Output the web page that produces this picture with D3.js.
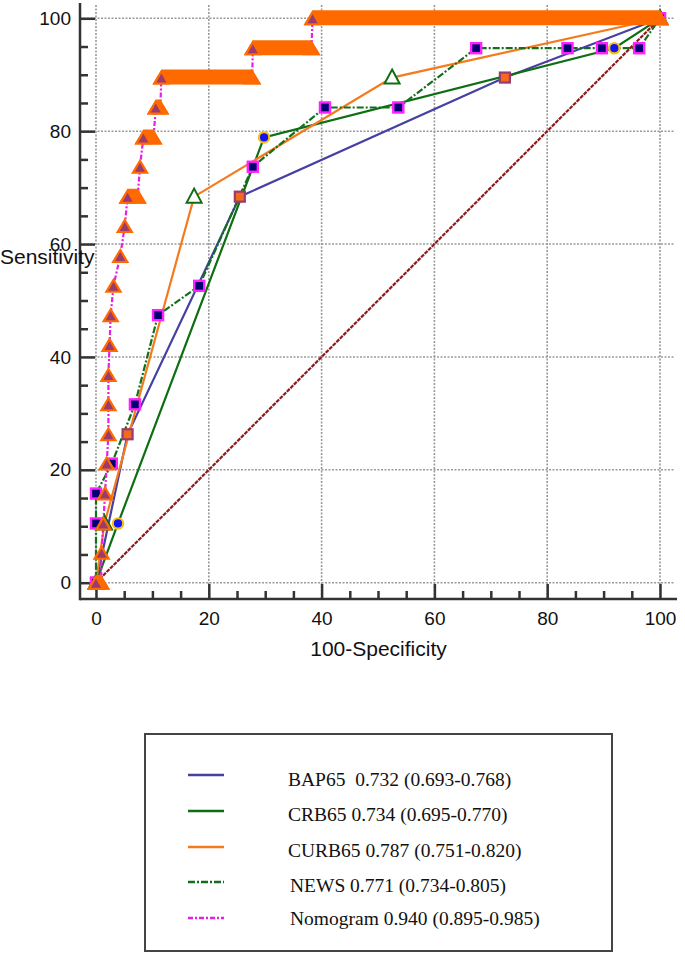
<!DOCTYPE html>
<html lang="en">
<head>
<meta charset="UTF-8">
<title>ROC curves</title>
<script src="https://d3js.org/d3.v7.min.js"></script>
<style>
  body { margin: 0; background: #fff; }
  svg { display: block; }
</style>
</head>
<body>
<div id="chart"></div>
<script>
// ROC points as [100-Specificity, Sensitivity]
const bap65 = [[0, 0], [5.6, 26.3], [25.5, 68.4], [72.5, 89.5], [100, 100]];
const crb65 = [[0, 0], [3.9, 10.5], [29.8, 78.9], [91.9, 94.7], [100, 100]];
const curb65 = [[0, 0], [1.5, 10.5], [17.4, 68.4], [52.5, 89.5], [100, 100]];
const news = [[0, 0], [0, 10.5], [0, 15.8], [2.8, 21.1], [6.9, 31.6], [11, 47.4], [18.3, 52.6],
  [27.8, 73.7], [40.6, 84.2], [53.6, 84.2], [67.4, 94.7], [83.6, 94.7], [89.7, 94.7], [96.3, 94.7], [100, 100]];
const nomogram = [[0, 0], [0.9, 0], [1.0, 5.3], [1.3, 10.5], [1.6, 15.8], [1.9, 21.1], [2.2, 26.3],
  [2.2, 31.6], [2.2, 36.8], [2.4, 42.1], [2.6, 47.4], [3.1, 52.6], [4.3, 57.9], [5.1, 63.2],
  [5.6, 68.4], [7.4, 68.4], [7.8, 73.7], [8.4, 78.9], [10.2, 78.9], [10.6, 84.2], [11.4, 84.2],
  [11.6, 89.5], [27.7, 89.5], [27.8, 94.7], [38.2, 94.7], [38.4, 100], [100, 100]];
const diagonal = [[0, 0], [100, 100]];

const majorTicks = [0, 20, 40, 60, 80, 100];
const minorTicks = [5, 10, 15, 25, 30, 35, 45, 50, 55, 65, 70, 75, 85, 90, 95];

const legendLabels = [
  "BAP65  0.732 (0.693-0.768)",
  "CRB65 0.734 (0.695-0.770)",
  "CURB65 0.787 (0.751-0.820)",
  "NEWS 0.771 (0.734-0.805)",
  "Nomogram 0.940 (0.895-0.985)"
];

const width = 685, height = 954;
const box = { left: 80, right: 677, top: 3, bottom: 599 };

const orange = "#ff6a00";
const purple = "#9b3a6e";
const styles = [
  { color: "#4640a2", dash: null },          // BAP65
  { color: "#0e6e12", dash: null },          // CRB65
  { color: "#f57a1e", dash: null },          // CURB65
  { color: "#12701a", dash: "7,2,2,2" },     // NEWS
  { color: "#e81ee8", dash: "5,2,2,2" }      // Nomogram
];

const svg = d3.select("#chart").append("svg")
  .attr("width", width)
  .attr("height", height);

const x = d3.scaleLinear().domain([0, 100]).range([96, 660]);
const y = d3.scaleLinear().domain([0, 100]).range([582.7, 18.3]);

// grid
const grid = svg.append("g")
  .attr("stroke", "#9a9a9a")
  .attr("stroke-width", 1.6)
  .attr("stroke-dasharray", "2,1.5");
grid.selectAll(".gv").data(majorTicks).join("line")
  .attr("x1", d => x(d)).attr("x2", d => x(d))
  .attr("y1", box.top + 2).attr("y2", box.bottom);
grid.selectAll(".gh").data(majorTicks).join("line")
  .attr("class", "gh")
  .attr("x1", box.left).attr("x2", box.right - 2)
  .attr("y1", d => y(d)).attr("y2", d => y(d));

// axes with inward ticks
const axisFont = "'Liberation Sans', Arial, sans-serif";
const gx = svg.append("g").attr("transform", `translate(0,${box.bottom})`)
  .call(d3.axisBottom(x).tickValues(majorTicks).tickSizeInner(-15).tickSizeOuter(0).tickPadding(13));
const gxm = svg.append("g").attr("transform", `translate(0,${box.bottom})`)
  .call(d3.axisBottom(x).tickValues(minorTicks).tickSizeInner(-8).tickSizeOuter(0).tickFormat(""));
const gy = svg.append("g").attr("transform", `translate(${box.left},0)`)
  .call(d3.axisLeft(y).tickValues(majorTicks).tickSizeInner(-15).tickSizeOuter(0).tickPadding(9));
const gym = svg.append("g").attr("transform", `translate(${box.left},0)`)
  .call(d3.axisLeft(y).tickValues(minorTicks).tickSizeInner(-8).tickSizeOuter(0).tickFormat(""));

[gx, gxm, gy, gym].forEach(g => {
  g.select(".domain").remove();
  g.selectAll("line").attr("stroke", "#333").attr("stroke-width", 2.5);
  g.selectAll("text").attr("font-family", axisFont).attr("font-size", 19).attr("fill", "#111");
});

svg.append("line")
  .attr("x1", box.left).attr("x2", box.left)
  .attr("y1", box.top).attr("y2", box.bottom + 1.25)
  .attr("stroke", "#333").attr("stroke-width", 2.5);
svg.append("line")
  .attr("x1", box.left).attr("x2", box.right)
  .attr("y1", box.bottom).attr("y2", box.bottom)
  .attr("stroke", "#333").attr("stroke-width", 2.5);

svg.append("text")
  .attr("x", (box.left + box.right) / 2).attr("y", 656)
  .attr("text-anchor", "middle")
  .attr("font-family", axisFont).attr("font-size", 21).attr("fill", "#111")
  .text("100-Specificity");
svg.append("text")
  .attr("x", 0).attr("y", 264)
  .attr("font-family", axisFont).attr("font-size", 21).attr("fill", "#111")
  .text("Sensitivity");

// curves
const line = d3.line().x(d => x(d[0])).y(d => y(d[1]));

svg.append("path")
  .attr("d", line(diagonal))
  .attr("fill", "none")
  .attr("stroke", "#8b1a1a")
  .attr("stroke-width", 2.2)
  .attr("stroke-dasharray", "4,1");

const series = [bap65, crb65, curb65, news, nomogram];
svg.append("g").selectAll("path").data(series).join("path")
  .attr("d", d => line(d))
  .attr("fill", "none")
  .attr("stroke", (d, i) => styles[i].color)
  .attr("stroke-width", 2.2)
  .attr("stroke-dasharray", (d, i) => styles[i].dash);

// markers
svg.append("g").selectAll("rect").data(bap65).join("rect")
  .attr("x", d => x(d[0]) - 5).attr("y", d => y(d[1]) - 5)
  .attr("width", 10).attr("height", 10)
  .attr("fill", "#f26a1a").attr("stroke", purple).attr("stroke-width", 2.2);

svg.append("g").selectAll("circle").data(crb65).join("circle")
  .attr("cx", d => x(d[0])).attr("cy", d => y(d[1]))
  .attr("r", 5.2)
  .attr("fill", "#1414f0").attr("stroke", "#f2c21a").attr("stroke-width", 2.2);

const tri = (cx, cy, hw, up, down) => `M${cx},${cy - up}L${cx + hw},${cy + down}L${cx - hw},${cy + down}Z`;

svg.append("g").selectAll("path").data(curb65).join("path")
  .attr("d", d => tri(x(d[0]), y(d[1]), 7.5, 8, 6))
  .attr("fill", "#fff").attr("stroke", "#0e6e12").attr("stroke-width", 2);

svg.append("g").selectAll("rect").data(news).join("rect")
  .attr("x", d => x(d[0]) - 5).attr("y", d => y(d[1]) - 5)
  .attr("width", 10).attr("height", 10)
  .attr("fill", "#000070").attr("stroke", "#ff20ff").attr("stroke-width", 2.4);

// nomogram: triangles drawn right to left; horizontal runs become solid bands
const nomo = svg.append("g");
nomogram.map((d, i) => [d, nomogram[i + 1]]).reverse().forEach(([d, next]) => {
  const px = x(d[0]), py = y(d[1]);
  if (next && next[1] === d[1]) {
    const nx = x(next[0]);
    nomo.append("path")
      .attr("d", `M${px},${py - 8}L${nx},${py - 8}L${nx + 9},${py + 7}L${px - 9},${py + 7}Z`)
      .attr("fill", orange);
  }
  nomo.append("path").attr("d", tri(px, py, 9, 8, 7)).attr("fill", orange);
  nomo.append("path").attr("d", tri(px, py + 1, 5, 5, 4)).attr("fill", purple);
});

// legend
const legend = svg.append("g");
legend.append("rect")
  .attr("x", 145).attr("y", 734)
  .attr("width", 467).attr("height", 217)
  .attr("fill", "#fff").attr("stroke", "#444").attr("stroke-width", 2);

const lineYs = [775, 811, 847, 882, 918];
const textYs = [786, 821, 857, 892, 925];
legend.selectAll("line").data(legendLabels).join("line")
  .attr("x1", 188).attr("x2", 224)
  .attr("y1", (d, i) => lineYs[i]).attr("y2", (d, i) => lineYs[i])
  .attr("stroke", (d, i) => styles[i].color)
  .attr("stroke-width", 2.4)
  .attr("stroke-dasharray", (d, i) => styles[i].dash);
legend.selectAll("text").data(legendLabels).join("text")
  .attr("x", (d, i) => i >= 3 ? 290 : 288)
  .attr("y", (d, i) => textYs[i])
  .attr("font-family", "'Liberation Serif', 'Times New Roman', serif")
  .attr("font-size", 19.5)
  .attr("fill", "#111")
  .style("white-space", "pre")
  .text(d => d);
</script>
</body>
</html>
